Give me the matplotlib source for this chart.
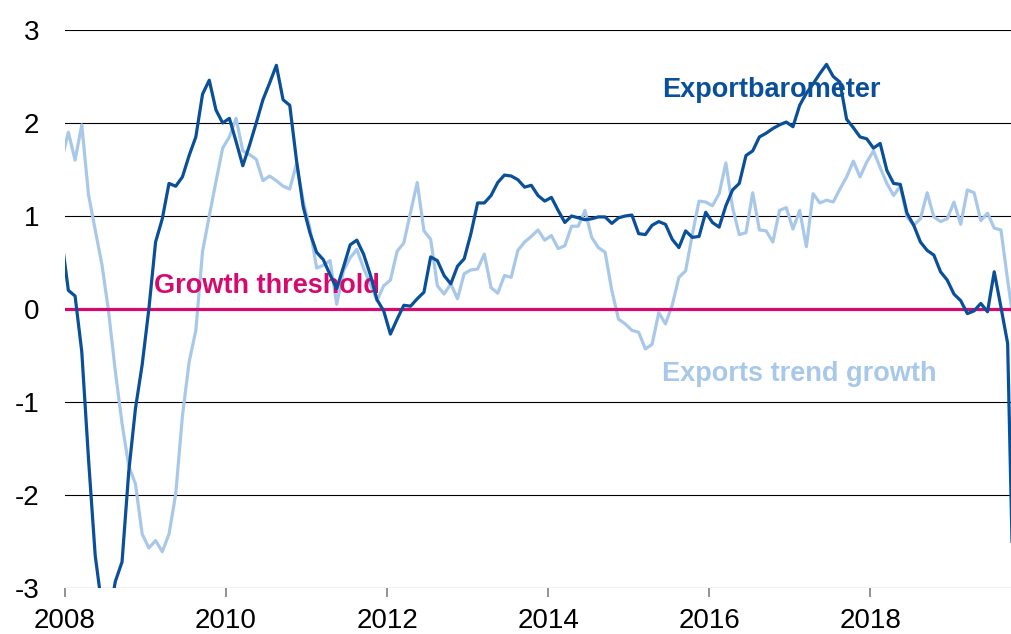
import numpy as np
import matplotlib.pyplot as plt

plt.rcParams['font.family'] = ['Liberation Sans', 'DejaVu Sans']

# monthly readings, Dec 2007 .. Oct 2019 (plotted at mid-month)
start_year = 2007 + 11 / 12

exportbarometer = [
    0.75,
    0.20, 0.14, -0.46, -1.61, -2.65, -3.20, -3.35, -2.93, -2.72, -1.75, -1.07, -0.60,
    0.00, 0.72, 0.97, 1.35, 1.32, 1.42, 1.65, 1.85, 2.31, 2.46, 2.14, 2.00,
    2.05, 1.80, 1.54, 1.76, 2.00, 2.25, 2.43, 2.62, 2.25, 2.19, 1.60, 1.10,
    0.82, 0.61, 0.53, 0.37, 0.22, 0.45, 0.69, 0.74, 0.59, 0.37, 0.10, -0.02,
    -0.27, -0.11, 0.04, 0.03, 0.11, 0.18, 0.56, 0.52, 0.36, 0.27, 0.46, 0.54,
    0.81, 1.14, 1.14, 1.22, 1.36, 1.44, 1.43, 1.39, 1.31, 1.33, 1.22, 1.16,
    1.20, 1.06, 0.93, 1.00, 0.98, 0.96, 0.97, 0.99, 0.99, 0.92, 0.98, 1.00,
    1.01, 0.81, 0.80, 0.90, 0.94, 0.91, 0.75, 0.66, 0.84, 0.77, 0.78, 1.04,
    0.93, 0.88, 1.11, 1.28, 1.35, 1.65, 1.70, 1.85, 1.89, 1.94, 1.98, 2.01,
    1.96, 2.19, 2.32, 2.42, 2.53, 2.63, 2.50, 2.44, 2.04, 1.95, 1.85, 1.83,
    1.73, 1.78, 1.49, 1.35, 1.34, 1.03, 0.90, 0.72, 0.63, 0.58, 0.40, 0.31,
    0.16, 0.09, -0.05, -0.02, 0.06, -0.03, 0.40, 0.02, -0.37, -3.65,
]

exports_trend = [
    1.60,
    1.90, 1.60, 1.98, 1.23, 0.85, 0.48, -0.03, -0.67, -1.23, -1.69, -1.88, -2.42,
    -2.57, -2.49, -2.61, -2.42, -1.99, -1.15, -0.57, -0.23, 0.62, 1.00, 1.37, 1.73,
    1.85, 2.05, 1.70, 1.66, 1.61, 1.38, 1.43, 1.38, 1.32, 1.29, 1.56, 1.16,
    0.87, 0.44, 0.47, 0.52, 0.05, 0.41, 0.55, 0.64, 0.44, 0.27, 0.09, 0.25,
    0.31, 0.62, 0.71, 1.04, 1.36, 0.84, 0.75, 0.25, 0.16, 0.27, 0.11, 0.38,
    0.42, 0.43, 0.59, 0.23, 0.17, 0.36, 0.34, 0.63, 0.72, 0.78, 0.85, 0.74,
    0.79, 0.65, 0.68, 0.89, 0.89, 1.06, 0.77, 0.66, 0.61, 0.20, -0.11, -0.16,
    -0.23, -0.25, -0.43, -0.38, -0.04, -0.16, 0.04, 0.34, 0.41, 0.80, 1.16, 1.15,
    1.11, 1.24, 1.57, 1.09, 0.80, 0.82, 1.25, 0.85, 0.84, 0.72, 1.06, 1.09,
    0.86, 1.06, 0.67, 1.24, 1.14, 1.17, 1.15, 1.29, 1.42, 1.59, 1.42, 1.58,
    1.70, 1.52, 1.35, 1.22, 1.32, 0.99, 0.90, 0.97, 1.25, 0.99, 0.94, 0.97,
    1.15, 0.91, 1.28, 1.25, 0.95, 1.03, 0.87, 0.85, 0.31, -0.20,
]

x_ticks = [2008, 2010, 2012, 2014, 2016, 2018]
y_ticks = [-3, -2, -1, 0, 1, 2, 3]

dark_blue = '#0a4f9a'
light_blue = '#a8c8ea'
pink = '#d6096f'

t = start_year + (np.arange(len(exportbarometer)) + 0.5) / 12

fig = plt.figure(figsize=(10.11, 6.34), dpi=100)
ax = fig.add_axes([0.0643, 0.0726, 0.9357, 0.8801])

for y in y_ticks:
    if y != 0:
        ax.axhline(y, color='black', linewidth=0.8, zorder=1)

ax.plot(t, exports_trend, color=light_blue, linewidth=2.3, zorder=2)
ax.axhline(0, color=pink, linewidth=2.3, zorder=3)
ax.plot(t, exportbarometer, color=dark_blue, linewidth=2.3, zorder=4)

# series labels
ax.text(2015.42, 2.28, 'Exportbarometer', color=dark_blue, fontsize=19.5,
        fontweight='bold', va='baseline', zorder=3.5)
ax.text(2009.11, 0.17, 'Growth threshold', color=pink, fontsize=19.5,
        fontweight='bold', va='baseline', zorder=3.5)
ax.text(2015.42, -0.77, 'Exports trend growth', color=light_blue, fontsize=19.5,
        fontweight='bold', va='baseline', zorder=3.5)

ax.set_xlim(2008, 2008 + 141.0 / 12)
ax.set_ylim(-3, 3)
ax.set_xticks(x_ticks)
ax.set_xticklabels([str(x) for x in x_ticks], fontsize=20)
ax.set_yticks(y_ticks)
ax.set_yticklabels([str(y) for y in y_ticks], fontsize=20)
ax.tick_params(axis='y', length=0, pad=18.5)
ax.tick_params(axis='x', length=6.7, width=1.2, color='#808080', pad=7.5)
for side in ['top', 'right', 'left', 'bottom']:
    ax.spines[side].set_visible(False)

fig.savefig('out.png', dpi=100)
